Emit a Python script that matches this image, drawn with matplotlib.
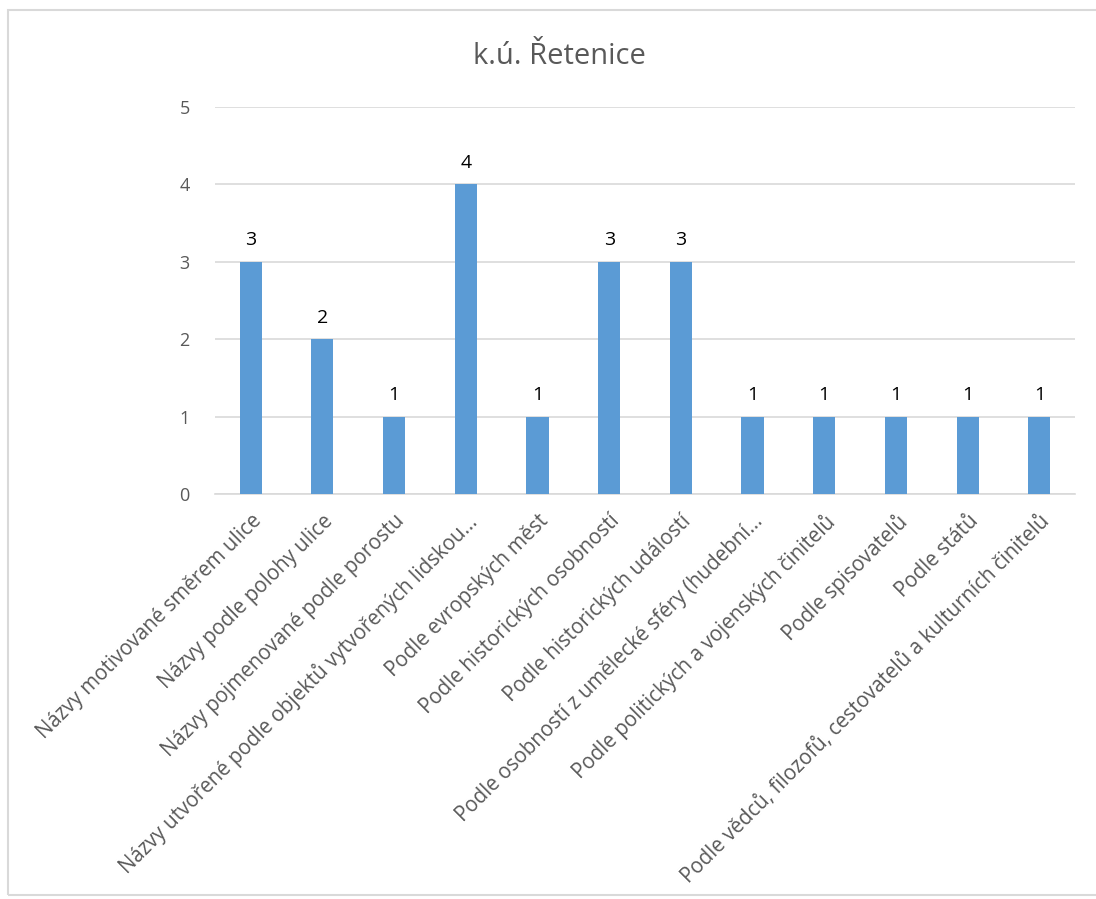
import numpy as np
import matplotlib.pyplot as plt
from matplotlib.patches import Rectangle

categories = [
    "Názvy motivované směrem ulice",
    "Názvy podle polohy ulice",
    "Názvy pojmenované podle porostu",
    "Názvy utvořené podle objektů vytvořených lidskou...",
    "Podle evropských měst",
    "Podle historických osobností",
    "Podle historických událostí",
    "Podle osobností z umělecké sféry (hudební...",
    "Podle politických a vojenských činitelů",
    "Podle spisovatelů",
    "Podle států",
    "Podle vědců, filozofů, cestovatelů a kulturních činitelů",
]
counts = [3, 2, 1, 4, 1, 3, 3, 1, 1, 1, 1, 1]

plt.rcParams['font.family'] = ['Open Sans', 'DejaVu Sans']

fig = plt.figure(figsize=(10.96, 8.99), dpi=100)
ax = fig.add_axes([0.196, 0.4505, 0.785, 0.4305])

x = np.arange(len(categories))
bars = ax.bar(x, counts, width=0.31, color="#5b9bd5", zorder=3)
for xi, v in zip(x, counts):
    ax.text(xi, v + 0.16, str(v), ha="center", va="bottom", fontsize=14, color="black")

ax.set_xlim(-0.5, len(categories) - 0.5)
ax.set_ylim(0, 5)
ax.set_yticks(range(6))
ax.yaxis.grid(True, color="#d9d9d9", linewidth=1.2, zorder=0)
ax.tick_params(axis="y", length=0, labelsize=13, labelcolor="#595959", pad=18)
ax.tick_params(axis="x", length=0, labelsize=14.8, labelcolor="#595959", pad=12)
ax.set_xticks(x)
ax.set_xticklabels(categories, rotation=45, ha="right", rotation_mode="anchor")
for s in ["top", "right", "left"]:
    ax.spines[s].set_visible(False)
ax.spines["bottom"].set_color("#d9d9d9")
ax.spines["bottom"].set_linewidth(1.2)

fig.text(0.510, 0.937, "k.ú. Řetenice", ha="center", va="center", fontsize=21, color="#595959")

# chart frame
fig.patches.append(Rectangle((8 / 1096, 4 / 899), 1.0, 1 - 14 / 899, transform=fig.transFigure,
                             fill=False, edgecolor="#d9d9d9", linewidth=1.5))

fig.savefig("out.png", dpi=100)
